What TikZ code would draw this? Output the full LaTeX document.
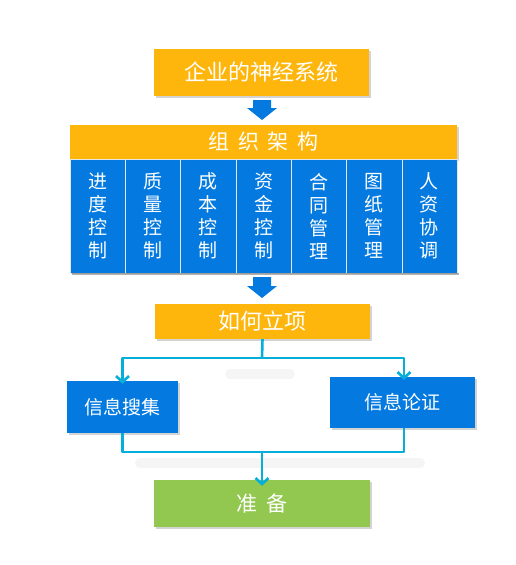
\documentclass[tikz,border=0pt]{standalone}
\usepackage{fontspec}
\setmainfont{Noto Sans CJK SC}
\usetikzlibrary{shadows,arrows.meta}
\definecolor{orng}{RGB}{254,182,12}
\definecolor{blu}{RGB}{4,122,224}
\definecolor{cyn}{RGB}{6,174,218}
\definecolor{grn}{RGB}{146,200,80}
\tikzset{
  box/.style={draw=none, minimum width=#1, text=white, inner sep=0pt,
    drop shadow={shadow xshift=1.5pt, shadow yshift=-2pt, opacity=0.35}},
  obox/.style={box=#1, fill=orng},
  bbox/.style={box=#1, fill=blu},
  col/.style={fill=blu, draw=white!80!gray, line width=0.6pt, minimum width=55.3pt, minimum height=114pt, inner sep=0pt, text=white, font=\fontsize{19}{23}\selectfont, align=center},
  conn/.style={draw=cyn, line width=2.6pt, line join=round},
  tipc/.style={-{Straight Barb[length=6pt,width=13pt,line width=2.6pt]}},
  blockarrow/.style={fill=blu, draw=none},
  haze/.style={draw=black!4, line width=10pt, line cap=round}
}
\begin{document}
\begin{tikzpicture}[x=1pt,y=-1pt]
\useasboundingbox (0,0) rectangle (516,565);
% top
\node[obox=215pt, minimum height=47pt, font=\fontsize{22}{26}\selectfont] (top) at (261.5,72.5) {企业的神经系统};
% block arrow 1
\fill[blockarrow] (253,100) -- (271,100) -- (271,108) -- (277,108) -- (262,120) -- (247,108) -- (253,108) -- cycle;
% org bar
\node[obox=387pt, minimum height=34pt, font=\fontsize{21}{24}\selectfont] (org) at (263.5,142) {组\hspace{0.4em}织\hspace{0.4em}架\hspace{0.4em}构};
\node[col] (c1) at (97.65,216) {进\\度\\控\\制};
\node[col] (c2) at (152.95,216) {质\\量\\控\\制};
\node[col] (c3) at (208.25,216) {成\\本\\控\\制};
\node[col] (c4) at (263.55,216) {资\\金\\控\\制};
\node[col] (c5) at (318.85,216) {合\\同\\管\\理};
\node[col] (c6) at (374.15,216) {图\\纸\\管\\理};
\node[col] (c7) at (429.45,216) {人\\资\\协\\调};
\fill[black, opacity=0.3] (72,273) rectangle (458.5,275);
% block arrow 2
\fill[blockarrow] (253,277) -- (271,277) -- (271,286) -- (277,286) -- (262,298) -- (247,286) -- (253,286) -- cycle;
% how
\node[obox=215pt, minimum height=35pt, font=\fontsize{22}{26}\selectfont] (how) at (262.5,321.5) {如何立项};
% haze
\draw[haze] (90,393) -- (130,392);
\draw[haze] (230,374) -- (290,374);
\draw[haze] (140,463) -- (420,463);
% info boxes
\node[bbox=111pt, minimum height=52pt, font=\fontsize{19}{22}\selectfont] (s1) at (122.5,407) {信息搜集};
\node[bbox=145pt, minimum height=51pt, font=\fontsize{19}{22}\selectfont] (s2) at (402.5,402.5) {信息论证};
\node[obox=216pt, minimum height=47pt, fill=grn, font=\fontsize{21}{24}\selectfont] (prep) at (262,503.5) {准\hspace{0.4em}备};
% connectors
\coordinate (j1) at (262,358);
\coordinate (j2) at (262,452);
\draw[conn] (how.south) -- (j1);
\draw[conn, tipc] (j1) -| ([yshift=-3pt]s1.north);
\draw[conn, tipc] (j1) -| ([xshift=1.5pt, yshift=-3pt]s2.north);
\draw[conn] (s1.south) |- (j2);
\draw[conn] ([xshift=1.5pt]s2.south) |- (j2);
\draw[conn, tipc] (j2) -- ([yshift=-6pt]prep.north);
\end{tikzpicture}
\end{document}
